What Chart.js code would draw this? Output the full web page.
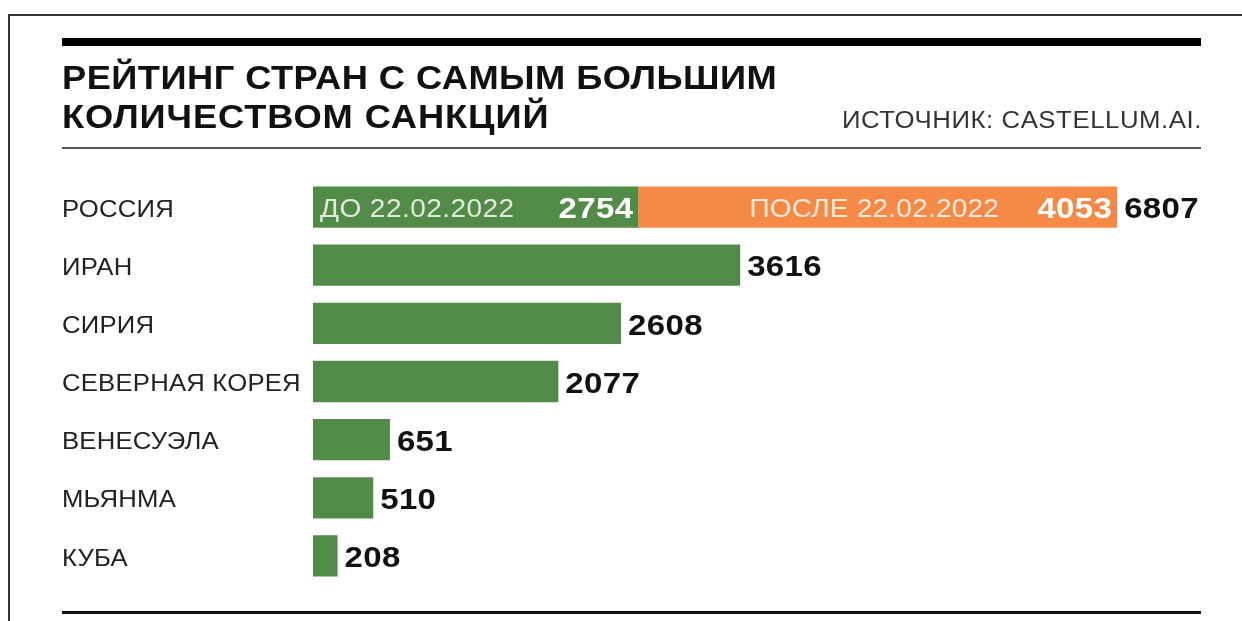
<!DOCTYPE html>
<html>
<head>
<meta charset="utf-8">
<script src="https://cdn.jsdelivr.net/npm/chart.js@4"></script>
<style>
  html, body { margin: 0; padding: 0; background: #fff; }
  #wrap { position: relative; width: 1242px; height: 621px; }
</style>
</head>
<body>
<div id="wrap"><canvas id="sanctionsChart" width="1242" height="621"></canvas></div>
<script>
// данные с картинки
const countries = ['РОССИЯ', 'ИРАН', 'СИРИЯ', 'СЕВЕРНАЯ КОРЕЯ', 'ВЕНЕСУЭЛА', 'МЬЯНМА', 'КУБА'];
const beforeValues = [2754, 3616, 2608, 2077, 651, 510, 208];
const afterValues = [4053, 0, 0, 0, 0, 0, 0];
const totals = [6807, 3616, 2608, 2077, 651, 510, 208];
const segmentLabels = ['ДО 22.02.2022', 'ПОСЛЕ 22.02.2022'];
const titleLines = ['РЕЙТИНГ СТРАН С САМЫМ БОЛЬШИМ', 'КОЛИЧЕСТВОМ САНКЦИЙ'];
const sourceText = 'ИСТОЧНИК: CASTELLUM.AI.';

const GREEN = '#528a48';
const ORANGE = '#f58a46';
const FONT = '"Liberation Sans", Arial, sans-serif';
const WIDE = 1.1; // шрифт в оригинале шире, растягиваем по горизонтали

// текст с растяжкой по ширине
function drawWide(ctx, text, x, y, align, sx, spacing) {
  ctx.save();
  ctx.letterSpacing = spacing + 'px';
  const w = ctx.measureText(text).width * sx;
  const left = align === 'right' ? x - w : x;
  ctx.translate(left, y);
  ctx.scale(sx, 1);
  ctx.textAlign = 'left';
  ctx.fillText(text, 0, 0);
  ctx.restore();
}

// подписи оси тоже растягиваем (левый край остаётся на месте)
const axisWidePlugin = {
  id: 'axisWide',
  beforeDraw(chart) {
    const c = chart.ctx;
    c.save();
    c.letterSpacing = '0.2px';
    c.setTransform(1.07, 0, 0, 1, -62 * 0.07, 3);
  },
  beforeDatasetsDraw(chart) {
    chart.ctx.restore();
  }
};

// рамка, заголовок и подписи
const decorPlugin = {
  id: 'decor',
  afterDraw(chart) {
    const ctx = chart.ctx;
    ctx.save();

    // внешняя рамка
    ctx.strokeStyle = '#333';
    ctx.lineWidth = 2;
    ctx.beginPath();
    ctx.moveTo(9, 621);
    ctx.lineTo(9, 15);
    ctx.lineTo(1242, 15);
    ctx.stroke();

    // толстая линия сверху
    ctx.fillStyle = '#000';
    ctx.fillRect(62, 38, 1139, 8);

    // заголовок
    ctx.font = 'bold 33px ' + FONT;
    ctx.textBaseline = 'alphabetic';
    ctx.fillStyle = '#111';
    drawWide(ctx, titleLines[0], 62, 89, 'left', WIDE, 0.4);
    drawWide(ctx, titleLines[1], 62, 128, 'left', WIDE, 0.8);

    // источник
    ctx.font = '23px ' + FONT;
    ctx.fillStyle = '#333';
    drawWide(ctx, sourceText, 1202, 128, 'right', 1.12, 0.5);

    // тонкая линия
    ctx.fillStyle = '#555';
    ctx.fillRect(62, 147, 1139, 2);

    // нижняя линия
    ctx.fillStyle = '#111';
    ctx.fillRect(62, 611, 1139, 3);

    // подписи значений
    const metaBefore = chart.getDatasetMeta(0);
    const metaAfter = chart.getDatasetMeta(1);
    ctx.textBaseline = 'middle';
    ctx.font = 'bold 30px ' + FONT;
    ctx.fillStyle = '#111';
    totals.forEach((v, i) => {
      const barB = metaBefore.data[i];
      const barA = metaAfter.data[i];
      const end = afterValues[i] > 0 ? barA.x : barB.x;
      drawWide(ctx, String(v), end + 7, barB.y + 3, 'left', WIDE, 0.3);
    });

    // подписи внутри полосы России
    const b0 = metaBefore.data[0];
    const a0 = metaAfter.data[0];
    ctx.font = '25px ' + FONT;
    ctx.fillStyle = 'rgba(255,255,255,0.82)';
    drawWide(ctx, segmentLabels[0], b0.base + 7, b0.y + 3, 'left', 1.12, 0.4);
    drawWide(ctx, segmentLabels[1], a0.x - 118, a0.y + 3, 'right', 1.12, 0.2);
    ctx.font = 'bold 30px ' + FONT;
    ctx.fillStyle = '#fff';
    drawWide(ctx, String(beforeValues[0]), b0.x - 5, b0.y + 3, 'right', WIDE, 0.3);
    drawWide(ctx, String(afterValues[0]), a0.x - 5, a0.y + 3, 'right', WIDE, 0.3);

    ctx.restore();
  }
};

const ctx = document.getElementById('sanctionsChart').getContext('2d');
new Chart(ctx, {
  type: 'bar',
  data: {
    labels: countries,
    datasets: [
      {
        label: segmentLabels[0],
        data: beforeValues,
        backgroundColor: GREEN,
        barPercentage: 0.71,
        categoryPercentage: 1
      },
      {
        label: segmentLabels[1],
        data: afterValues,
        backgroundColor: ORANGE,
        barPercentage: 0.71,
        categoryPercentage: 1
      }
    ]
  },
  options: {
    indexAxis: 'y',
    responsive: false,
    animation: false,
    layout: {
      padding: { left: 62, right: 43, top: 178, bottom: 36 }
    },
    plugins: {
      legend: { display: false },
      tooltip: { enabled: false }
    },
    scales: {
      x: {
        stacked: true,
        display: false,
        min: 0,
        max: 7500
      },
      y: {
        stacked: true,
        grid: { display: false },
        border: { display: false },
        afterFit(scale) { scale.width = 251; },
        ticks: {
          crossAlign: 'far',
          color: '#222',
          font: { family: FONT, size: 24 }
        }
      }
    }
  },
  plugins: [axisWidePlugin, decorPlugin]
});
</script>
</body>
</html>
